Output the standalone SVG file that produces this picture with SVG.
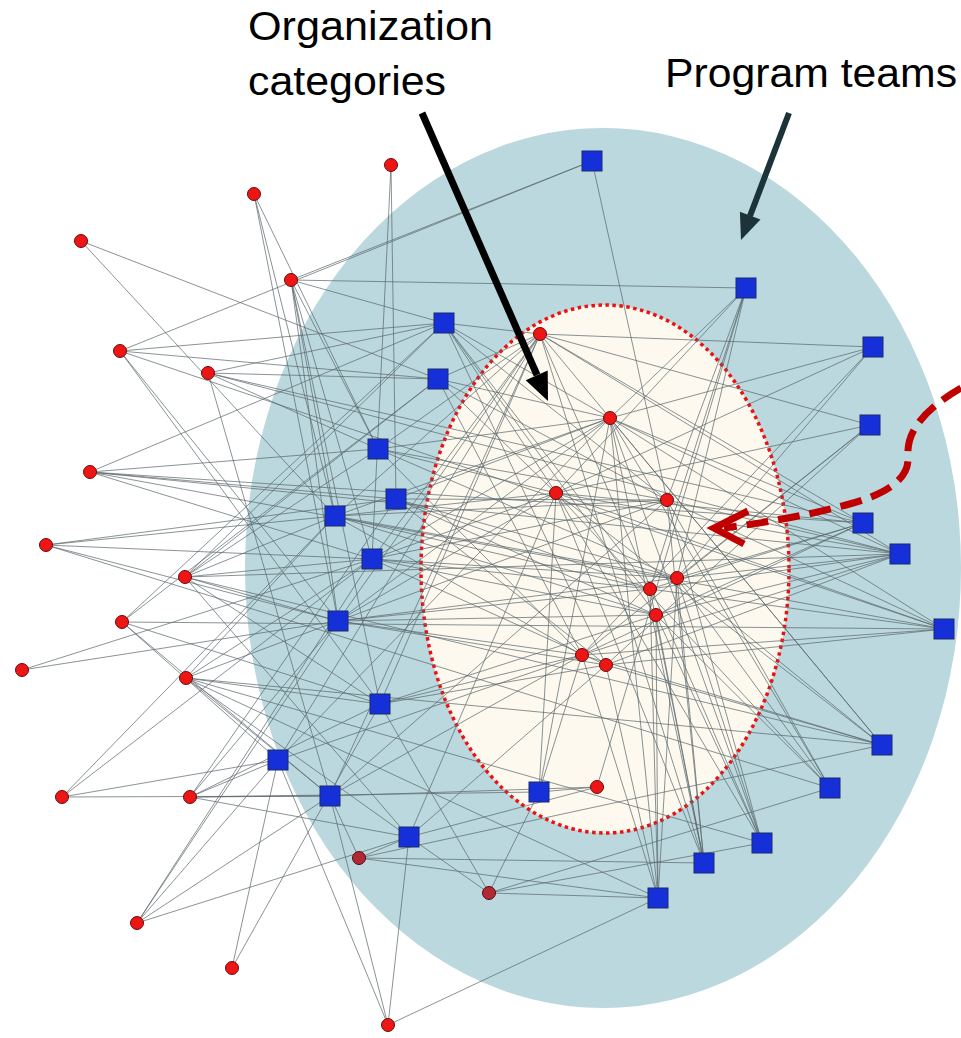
<svg xmlns="http://www.w3.org/2000/svg" width="961" height="1038" viewBox="0 0 961 1038">
<style>
.lbl{font-family:"Liberation Sans","Noto Sans",Arial,sans-serif;font-size:41px;fill:#000}
.e line{stroke:#5c686d;stroke-width:0.9;stroke-opacity:0.8}
.r{fill:#ee1515;stroke:#6e0a0a;stroke-width:1}
.rd{fill:#b02a35;stroke:#5a0a10;stroke-width:1}
.b{fill:#1530d8;stroke:#1c2a6a;stroke-width:1}
</style>
<rect width="961" height="1038" fill="#ffffff"/>
<g id="regions">
<ellipse id="program-area" cx="603" cy="568" rx="358" ry="440" fill="#bad8de"/>
<ellipse id="org-area" cx="605" cy="569" rx="184" ry="264" fill="#fdf9ef" stroke="#ee1111" stroke-width="3.5" stroke-dasharray="3.5 3.5"/>
</g>
<g id="connectors" class="e">
<line x1="391" y1="165" x2="396" y2="499"/><line x1="391" y1="165" x2="372" y2="559"/>
<line x1="254" y1="194" x2="378" y2="449"/><line x1="254" y1="194" x2="335" y2="516"/><line x1="254" y1="194" x2="338" y2="621"/>
<line x1="81" y1="241" x2="438" y2="379"/><line x1="81" y1="241" x2="335" y2="516"/>
<line x1="291" y1="280" x2="592" y2="161"/><line x1="291" y1="280" x2="746" y2="288"/><line x1="291" y1="280" x2="444" y2="323"/><line x1="291" y1="280" x2="378" y2="449"/><line x1="291" y1="280" x2="335" y2="516"/><line x1="291" y1="280" x2="338" y2="621"/><line x1="291" y1="280" x2="380" y2="704"/><line x1="291" y1="280" x2="372" y2="559"/>
<line x1="120" y1="351" x2="592" y2="161"/><line x1="120" y1="351" x2="444" y2="323"/><line x1="120" y1="351" x2="438" y2="379"/><line x1="120" y1="351" x2="338" y2="621"/><line x1="120" y1="351" x2="380" y2="704"/><line x1="120" y1="351" x2="944" y2="629"/>
<line x1="208" y1="373" x2="444" y2="323"/><line x1="208" y1="373" x2="438" y2="379"/><line x1="208" y1="373" x2="378" y2="449"/><line x1="208" y1="373" x2="863" y2="523"/><line x1="208" y1="373" x2="900" y2="554"/><line x1="208" y1="373" x2="330" y2="796"/>
<line x1="90" y1="472" x2="444" y2="323"/><line x1="90" y1="472" x2="378" y2="449"/><line x1="90" y1="472" x2="396" y2="499"/><line x1="90" y1="472" x2="372" y2="559"/><line x1="90" y1="472" x2="900" y2="554"/><line x1="90" y1="472" x2="863" y2="523"/><line x1="90" y1="472" x2="944" y2="629"/>
<line x1="46" y1="545" x2="396" y2="499"/><line x1="46" y1="545" x2="372" y2="559"/><line x1="46" y1="545" x2="338" y2="621"/><line x1="46" y1="545" x2="335" y2="516"/><line x1="46" y1="545" x2="830" y2="788"/>
<line x1="185" y1="577" x2="444" y2="323"/><line x1="185" y1="577" x2="438" y2="379"/><line x1="185" y1="577" x2="378" y2="449"/><line x1="185" y1="577" x2="335" y2="516"/><line x1="185" y1="577" x2="372" y2="559"/><line x1="185" y1="577" x2="338" y2="621"/><line x1="185" y1="577" x2="380" y2="704"/><line x1="185" y1="577" x2="409" y2="837"/><line x1="185" y1="577" x2="882" y2="745"/><line x1="185" y1="577" x2="900" y2="554"/>
<line x1="122" y1="622" x2="438" y2="379"/><line x1="122" y1="622" x2="444" y2="323"/><line x1="122" y1="622" x2="278" y2="760"/><line x1="122" y1="622" x2="330" y2="796"/><line x1="122" y1="622" x2="380" y2="704"/><line x1="122" y1="622" x2="944" y2="629"/>
<line x1="22" y1="670" x2="372" y2="559"/><line x1="22" y1="670" x2="338" y2="621"/>
<line x1="186" y1="678" x2="335" y2="516"/><line x1="186" y1="678" x2="372" y2="559"/><line x1="186" y1="678" x2="338" y2="621"/><line x1="186" y1="678" x2="380" y2="704"/><line x1="186" y1="678" x2="330" y2="796"/><line x1="186" y1="678" x2="409" y2="837"/><line x1="186" y1="678" x2="658" y2="898"/><line x1="186" y1="678" x2="762" y2="843"/><line x1="186" y1="678" x2="882" y2="745"/>
<line x1="62" y1="797" x2="278" y2="760"/><line x1="62" y1="797" x2="330" y2="796"/><line x1="62" y1="797" x2="335" y2="516"/><line x1="62" y1="797" x2="372" y2="559"/>
<line x1="190" y1="797" x2="278" y2="760"/><line x1="190" y1="797" x2="330" y2="796"/><line x1="190" y1="797" x2="409" y2="837"/><line x1="190" y1="797" x2="338" y2="621"/><line x1="190" y1="797" x2="380" y2="704"/><line x1="190" y1="797" x2="539" y2="792"/><line x1="190" y1="797" x2="396" y2="499"/>
<line x1="359" y1="858" x2="409" y2="837"/><line x1="359" y1="858" x2="330" y2="796"/><line x1="359" y1="858" x2="658" y2="898"/><line x1="359" y1="858" x2="882" y2="745"/><line x1="359" y1="858" x2="704" y2="863"/>
<line x1="489" y1="893" x2="539" y2="792"/><line x1="489" y1="893" x2="658" y2="898"/><line x1="489" y1="893" x2="409" y2="837"/><line x1="489" y1="893" x2="380" y2="704"/><line x1="489" y1="893" x2="762" y2="843"/><line x1="489" y1="893" x2="830" y2="788"/>
<line x1="137" y1="923" x2="278" y2="760"/><line x1="137" y1="923" x2="330" y2="796"/><line x1="137" y1="923" x2="372" y2="559"/><line x1="137" y1="923" x2="338" y2="621"/><line x1="137" y1="923" x2="409" y2="837"/>
<line x1="232" y1="968" x2="278" y2="760"/><line x1="232" y1="968" x2="380" y2="704"/>
<line x1="388" y1="1025" x2="278" y2="760"/><line x1="388" y1="1025" x2="330" y2="796"/><line x1="388" y1="1025" x2="409" y2="837"/><line x1="388" y1="1025" x2="658" y2="898"/>
<line x1="540" y1="334" x2="444" y2="323"/><line x1="540" y1="334" x2="438" y2="379"/><line x1="540" y1="334" x2="873" y2="347"/><line x1="540" y1="334" x2="870" y2="425"/><line x1="540" y1="334" x2="335" y2="516"/><line x1="540" y1="334" x2="378" y2="449"/><line x1="540" y1="334" x2="372" y2="559"/><line x1="540" y1="334" x2="338" y2="621"/><line x1="540" y1="334" x2="278" y2="760"/><line x1="540" y1="334" x2="330" y2="796"/><line x1="540" y1="334" x2="863" y2="523"/><line x1="540" y1="334" x2="900" y2="554"/><line x1="540" y1="334" x2="380" y2="704"/><line x1="540" y1="334" x2="882" y2="745"/><line x1="540" y1="334" x2="762" y2="843"/><line x1="540" y1="334" x2="704" y2="863"/>
<line x1="610" y1="418" x2="378" y2="449"/><line x1="610" y1="418" x2="396" y2="499"/><line x1="610" y1="418" x2="335" y2="516"/><line x1="610" y1="418" x2="372" y2="559"/><line x1="610" y1="418" x2="900" y2="554"/><line x1="610" y1="418" x2="863" y2="523"/><line x1="610" y1="418" x2="338" y2="621"/><line x1="610" y1="418" x2="278" y2="760"/><line x1="610" y1="418" x2="746" y2="288"/><line x1="610" y1="418" x2="658" y2="898"/><line x1="610" y1="418" x2="539" y2="792"/><line x1="610" y1="418" x2="438" y2="379"/><line x1="610" y1="418" x2="444" y2="323"/><line x1="610" y1="418" x2="944" y2="629"/><line x1="610" y1="418" x2="882" y2="745"/><line x1="610" y1="418" x2="830" y2="788"/><line x1="610" y1="418" x2="762" y2="843"/><line x1="610" y1="418" x2="704" y2="863"/><line x1="610" y1="418" x2="873" y2="347"/>
<line x1="556" y1="493" x2="335" y2="516"/><line x1="556" y1="493" x2="372" y2="559"/><line x1="556" y1="493" x2="444" y2="323"/><line x1="556" y1="493" x2="438" y2="379"/><line x1="556" y1="493" x2="378" y2="449"/><line x1="556" y1="493" x2="863" y2="523"/><line x1="556" y1="493" x2="900" y2="554"/><line x1="556" y1="493" x2="338" y2="621"/><line x1="556" y1="493" x2="746" y2="288"/><line x1="556" y1="493" x2="539" y2="792"/><line x1="556" y1="493" x2="409" y2="837"/><line x1="556" y1="493" x2="944" y2="629"/><line x1="556" y1="493" x2="882" y2="745"/><line x1="556" y1="493" x2="830" y2="788"/><line x1="556" y1="493" x2="762" y2="843"/><line x1="556" y1="493" x2="704" y2="863"/><line x1="556" y1="493" x2="873" y2="347"/><line x1="556" y1="493" x2="870" y2="425"/>
<line x1="667" y1="500" x2="592" y2="161"/><line x1="667" y1="500" x2="746" y2="288"/><line x1="667" y1="500" x2="335" y2="516"/><line x1="667" y1="500" x2="396" y2="499"/><line x1="667" y1="500" x2="372" y2="559"/><line x1="667" y1="500" x2="338" y2="621"/><line x1="667" y1="500" x2="944" y2="629"/><line x1="667" y1="500" x2="900" y2="554"/><line x1="667" y1="500" x2="704" y2="863"/><line x1="667" y1="500" x2="762" y2="843"/><line x1="667" y1="500" x2="330" y2="796"/><line x1="667" y1="500" x2="378" y2="449"/><line x1="667" y1="500" x2="438" y2="379"/><line x1="667" y1="500" x2="444" y2="323"/><line x1="667" y1="500" x2="830" y2="788"/>
<line x1="650" y1="589" x2="746" y2="288"/><line x1="650" y1="589" x2="444" y2="323"/><line x1="650" y1="589" x2="335" y2="516"/><line x1="650" y1="589" x2="372" y2="559"/><line x1="650" y1="589" x2="900" y2="554"/><line x1="650" y1="589" x2="863" y2="523"/><line x1="650" y1="589" x2="944" y2="629"/><line x1="650" y1="589" x2="704" y2="863"/><line x1="650" y1="589" x2="658" y2="898"/><line x1="650" y1="589" x2="396" y2="499"/><line x1="650" y1="589" x2="338" y2="621"/>
<line x1="677" y1="578" x2="746" y2="288"/><line x1="677" y1="578" x2="873" y2="347"/><line x1="677" y1="578" x2="870" y2="425"/><line x1="677" y1="578" x2="863" y2="523"/><line x1="677" y1="578" x2="900" y2="554"/><line x1="677" y1="578" x2="882" y2="745"/><line x1="677" y1="578" x2="830" y2="788"/><line x1="677" y1="578" x2="762" y2="843"/><line x1="677" y1="578" x2="704" y2="863"/><line x1="677" y1="578" x2="658" y2="898"/><line x1="677" y1="578" x2="378" y2="449"/><line x1="677" y1="578" x2="396" y2="499"/><line x1="677" y1="578" x2="335" y2="516"/><line x1="677" y1="578" x2="372" y2="559"/><line x1="677" y1="578" x2="338" y2="621"/>
<line x1="656" y1="615" x2="396" y2="499"/><line x1="656" y1="615" x2="372" y2="559"/><line x1="656" y1="615" x2="338" y2="621"/><line x1="656" y1="615" x2="380" y2="704"/><line x1="656" y1="615" x2="658" y2="898"/><line x1="656" y1="615" x2="704" y2="863"/><line x1="656" y1="615" x2="762" y2="843"/><line x1="656" y1="615" x2="900" y2="554"/><line x1="656" y1="615" x2="863" y2="523"/><line x1="656" y1="615" x2="335" y2="516"/><line x1="656" y1="615" x2="444" y2="323"/><line x1="656" y1="615" x2="830" y2="788"/>
<line x1="582" y1="655" x2="378" y2="449"/><line x1="582" y1="655" x2="335" y2="516"/><line x1="582" y1="655" x2="338" y2="621"/><line x1="582" y1="655" x2="380" y2="704"/><line x1="582" y1="655" x2="330" y2="796"/><line x1="582" y1="655" x2="278" y2="760"/><line x1="582" y1="655" x2="539" y2="792"/><line x1="582" y1="655" x2="658" y2="898"/><line x1="582" y1="655" x2="900" y2="554"/><line x1="582" y1="655" x2="863" y2="523"/><line x1="582" y1="655" x2="944" y2="629"/><line x1="582" y1="655" x2="873" y2="347"/><line x1="582" y1="655" x2="870" y2="425"/><line x1="582" y1="655" x2="882" y2="745"/><line x1="582" y1="655" x2="438" y2="379"/>
<line x1="606" y1="665" x2="396" y2="499"/><line x1="606" y1="665" x2="372" y2="559"/><line x1="606" y1="665" x2="338" y2="621"/><line x1="606" y1="665" x2="380" y2="704"/><line x1="606" y1="665" x2="409" y2="837"/><line x1="606" y1="665" x2="658" y2="898"/><line x1="606" y1="665" x2="944" y2="629"/><line x1="606" y1="665" x2="882" y2="745"/><line x1="606" y1="665" x2="870" y2="425"/><line x1="606" y1="665" x2="900" y2="554"/><line x1="606" y1="665" x2="444" y2="323"/>
<line x1="597" y1="787" x2="539" y2="792"/><line x1="597" y1="787" x2="746" y2="288"/><line x1="597" y1="787" x2="330" y2="796"/><line x1="597" y1="787" x2="409" y2="837"/>
</g>
<g id="org-categories">
<g id="o1"><circle class="r" cx="391" cy="165" r="6.5"/></g>
<g id="o2"><circle class="r" cx="254" cy="194" r="6.5"/></g>
<g id="o3"><circle class="r" cx="81" cy="241" r="6.5"/></g>
<g id="o4"><circle class="r" cx="291" cy="280" r="6.5"/></g>
<g id="o5"><circle class="r" cx="120" cy="351" r="6.5"/></g>
<g id="o6"><circle class="r" cx="208" cy="373" r="6.5"/></g>
<g id="o7"><circle class="r" cx="90" cy="472" r="6.5"/></g>
<g id="o8"><circle class="r" cx="46" cy="545" r="6.5"/></g>
<g id="o9"><circle class="r" cx="185" cy="577" r="6.5"/></g>
<g id="o10"><circle class="r" cx="122" cy="622" r="6.5"/></g>
<g id="o11"><circle class="r" cx="22" cy="670" r="6.5"/></g>
<g id="o12"><circle class="r" cx="186" cy="678" r="6.5"/></g>
<g id="o13"><circle class="r" cx="62" cy="797" r="6.5"/></g>
<g id="o14"><circle class="r" cx="190" cy="797" r="6.5"/></g>
<g id="o15"><circle class="rd" cx="359" cy="858" r="6.5"/></g>
<g id="o16"><circle class="rd" cx="489" cy="893" r="6.5"/></g>
<g id="o17"><circle class="r" cx="137" cy="923" r="6.5"/></g>
<g id="o18"><circle class="r" cx="232" cy="968" r="6.5"/></g>
<g id="o19"><circle class="r" cx="388" cy="1025" r="6.5"/></g>
<g id="i1"><circle class="r" cx="540" cy="334" r="6.5"/></g>
<g id="i2"><circle class="r" cx="610" cy="418" r="6.5"/></g>
<g id="i3"><circle class="r" cx="556" cy="493" r="6.5"/></g>
<g id="i4"><circle class="r" cx="667" cy="500" r="6.5"/></g>
<g id="i5"><circle class="r" cx="650" cy="589" r="6.5"/></g>
<g id="i6"><circle class="r" cx="677" cy="578" r="6.5"/></g>
<g id="i7"><circle class="r" cx="656" cy="615" r="6.5"/></g>
<g id="i8"><circle class="r" cx="582" cy="655" r="6.5"/></g>
<g id="i9"><circle class="r" cx="606" cy="665" r="6.5"/></g>
<g id="i10"><circle class="r" cx="597" cy="787" r="6.5"/></g>
</g>
<g id="program-teams">
<g id="b1"><rect class="b" x="582" y="151" width="20" height="20"/></g>
<g id="b2"><rect class="b" x="736" y="278" width="20" height="20"/></g>
<g id="b3"><rect class="b" x="434" y="313" width="20" height="20"/></g>
<g id="b4"><rect class="b" x="428" y="369" width="20" height="20"/></g>
<g id="b5"><rect class="b" x="863" y="337" width="20" height="20"/></g>
<g id="b6"><rect class="b" x="860" y="415" width="20" height="20"/></g>
<g id="b7"><rect class="b" x="368" y="439" width="20" height="20"/></g>
<g id="b8"><rect class="b" x="386" y="489" width="20" height="20"/></g>
<g id="b9"><rect class="b" x="325" y="506" width="20" height="20"/></g>
<g id="b10"><rect class="b" x="362" y="549" width="20" height="20"/></g>
<g id="b11"><rect class="b" x="853" y="513" width="20" height="20"/></g>
<g id="b12"><rect class="b" x="890" y="544" width="20" height="20"/></g>
<g id="b13"><rect class="b" x="328" y="611" width="20" height="20"/></g>
<g id="b14"><rect class="b" x="934" y="619" width="20" height="20"/></g>
<g id="b15"><rect class="b" x="370" y="694" width="20" height="20"/></g>
<g id="b16"><rect class="b" x="872" y="735" width="20" height="20"/></g>
<g id="b17"><rect class="b" x="268" y="750" width="20" height="20"/></g>
<g id="b18"><rect class="b" x="820" y="778" width="20" height="20"/></g>
<g id="b19"><rect class="b" x="320" y="786" width="20" height="20"/></g>
<g id="b20"><rect class="b" x="529" y="782" width="20" height="20"/></g>
<g id="b21"><rect class="b" x="752" y="833" width="20" height="20"/></g>
<g id="b22"><rect class="b" x="694" y="853" width="20" height="20"/></g>
<g id="b23"><rect class="b" x="399" y="827" width="20" height="20"/></g>
<g id="b24"><rect class="b" x="648" y="888" width="20" height="20"/></g>
</g>
<g id="annotations">
<text class="lbl" x="248" y="40" textLength="245" lengthAdjust="spacingAndGlyphs">Organization</text>
<text class="lbl" x="248" y="95" textLength="198" lengthAdjust="spacingAndGlyphs">categories</text>
<text class="lbl" x="665" y="87" textLength="292" lengthAdjust="spacingAndGlyphs">Program teams</text>
<line x1="422" y1="113" x2="537" y2="375" stroke="#000" stroke-width="7"/>
<polygon points="548,401 525.7,380.2 547.7,370.6" fill="#000"/>
<line x1="789" y1="113" x2="750" y2="216" stroke="#1c3339" stroke-width="6"/>
<polygon points="741,240 739.9,211.8 760.5,219.6" fill="#1c3339"/>
<path d="M 961 388 C 930 406 906 428 908 456 C 910 482 880 496 846 505 C 808 515 770 522 724 528" fill="none" stroke="#c00000" stroke-width="7" stroke-dasharray="22 10"/>
<polyline points="748,511 714,528 744,544" fill="none" stroke="#c00000" stroke-width="7" stroke-linejoin="miter"/>
</g>
</svg>
